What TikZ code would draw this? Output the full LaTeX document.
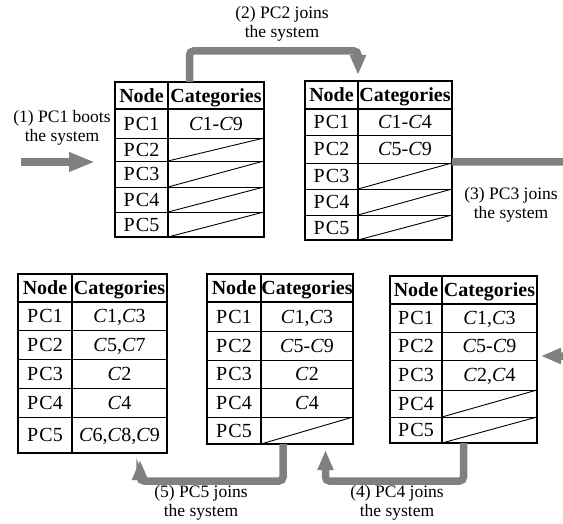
\documentclass[tikz,border=0pt]{standalone}
\usepackage{fontspec}
\setmainfont{Liberation Serif}
\usetikzlibrary{arrows.meta}

\definecolor{flow}{RGB}{128,128,128}

% italic category letter and spaced PC names
\newcommand\catC{\textit{C}}
\newcommand\pcid[1]{P\kern1.2pt C#1}

\tikzset{
  frame/.style={draw, line width=2pt, inner sep=0pt, outer sep=0pt, anchor=north west},
  thickrule/.style={line width=2pt},
  thinrule/.style={line width=0.9pt},
  slash/.style={line width=0.9pt},
  cell/.style={inner sep=0pt, text height=13.2pt, text depth=0pt,
               font=\fontsize{20}{24}\selectfont},
  headcell/.style={cell, font=\fontsize{20}{24}\selectfont\bfseries},
  evtlabel/.style={align=center, inner sep=0pt,
                   font=\fontsize{17.5}{19.5}\selectfont},
  flowarrow/.style={draw=flow, line width=7.5pt, rounded corners=4pt,
                    -{Triangle[length=20pt,width=15pt]}},
}

% frame, column divider, header rule and header texts of one table
% #1 name, #2 left x, #3 divider x, #4 right x, #5 top y, #6 header y, #7 bottom y
\newcommand\tablegrid[7]{%
  \node[frame, minimum width={(#4-#2)*1pt}, minimum height={(#7-#5)*1pt}] (#1) at (#2,#5) {};
  \coordinate (#1-div) at (#3,#5);
  \draw[thickrule] (#3,#5) -- (#3,#7);
  \draw[thickrule] (#2,#6) -- (#4,#6);
  \node[headcell] (#1-hn) at ({(#2+#3)/2},{(#5+#6)/2}) {Node};
  \node[headcell] (#1-hc) at ({(#3+#4)/2},{(#5+#6)/2}) {Categories};
}

% body rows: items are  upper y / lower y / pc number / slash flag / categories
% #1 name, #2 left x, #3 divider x, #4 right x, #5 list
\newcommand\tablerows[5]{%
  \foreach \ya/\yb/\pc/\sl/\cat in {#5}{%
    \draw[thinrule] (#2,\yb) -- (#4,\yb);
    \node[cell] (#1-pc\pc) at ({(#2+#3)/2},{(\ya+\yb)/2}) {\pcid{\pc}};
    \ifnum\sl=1
      \draw[slash] (#3,\yb) -- (#4,\ya);
    \else
      \node[cell] (#1-cat\pc) at ({(#3+#4)/2},{(\ya+\yb)/2}) {\cat};
    \fi
  }%
}

\begin{document}
\begin{tikzpicture}[x=1pt, y=-1pt]
\fill[white] (0,0) rectangle (563,524);
\useasboundingbox (0,0) rectangle (563,524);
\clip (0,0) rectangle (563,524);

% ---- table after PC1 boots
\tablerows{t1}{115}{168}{264}{109/138/1/0/{\catC1-\catC9}, 138/161/2/1/{}, 161/187/3/1/{}, 187/212/4/1/{}, 212/237/5/1/{}}
\tablegrid{t1}{115}{168}{264}{82}{109}{237}

% ---- table after PC2 joins
\tablerows{t2}{305}{358}{452}{109/135/1/0/{\catC1-\catC4}, 135/163/2/0/{\catC5-\catC9}, 163/189/3/1/{}, 189/215/4/1/{}, 215/240/5/1/{}}
\tablegrid{t2}{305}{358}{452}{81}{109}{240}

% ---- table after PC3 joins
\tablerows{t3}{390}{442}{537}{304/332/1/0/{\catC1,\catC3}, 332/360/2/0/{\catC5-\catC9}, 360/390/3/0/{\catC2,\catC4}, 390/417/4/1/{}, 417/443/5/1/{}}
\tablegrid{t3}{390}{442}{537}{276}{304}{443}

% ---- table after PC4 joins
\tablerows{t4}{207}{261}{353}{302/331/1/0/{\catC1,\catC3}, 331/360/2/0/{\catC5-\catC9}, 360/388/3/0/{\catC2}, 388/417/4/0/{\catC4}, 417/444/5/1/{}}
\tablegrid{t4}{207}{261}{353}{274}{302}{444}

% ---- table after PC5 joins
\tablerows{t5}{18}{72}{167}{302/330/1/0/{\catC1,\catC3}, 330/359/2/0/{\catC5,\catC7}, 359/388/3/0/{\catC2}, 388/417/4/0/{\catC4}, 417/453/5/0/{\catC6,\catC8,\catC9}}
\tablegrid{t5}{18}{72}{167}{274}{302}{453}

% ---- step labels
\node[evtlabel] (l1) at (62,128) {(1) PC1 boots\\the system};
\node[evtlabel] (l2) at (282,24) {(2) PC2 joins\\the system};
\node[evtlabel] (l3) at (511,205) {(3) PC3 joins\\the system};
\node[evtlabel] (l4) at (397,503) {(4) PC4 joins\\the system};
\node[evtlabel] (l5) at (201,503) {(5) PC5 joins\\the system};

% ---- flow arrows
\coordinate (a1start) at (21,162);
\coordinate (a1end) at (95,162);
\draw[flowarrow, -{Triangle[length=26pt,width=18pt]}] (a1start) -- (a1end);

\coordinate (t2in) at ([yshift=6pt]t2-div);
\draw[flowarrow] (t1.north) |- ([yshift=24pt]t2in) -- (t2in);

\coordinate (a3out) at ([yshift=-1.5pt]t2.east);
\coordinate (t3in) at ([shift={(4pt,3.5pt)}]t3.east);
\coordinate (a3turn) at (580,0);
\draw[flowarrow] (a3out) -- (a3out -| a3turn) -- (a3turn |- t3in) -- (t3in);

\coordinate (t4in) at ([shift={(-27.5pt,-6pt)}]t4.south east);
\draw[flowarrow] (t3.south) |- ([yshift=-31pt]t4in) -- (t4in);

\coordinate (t5in) at ([shift={(-27pt,-7pt)}]t5.south east);
\draw[flowarrow] ([xshift=3pt]t4.south) |- ([yshift=-21pt]t5in) -- (t5in);
\end{tikzpicture}
\end{document}
